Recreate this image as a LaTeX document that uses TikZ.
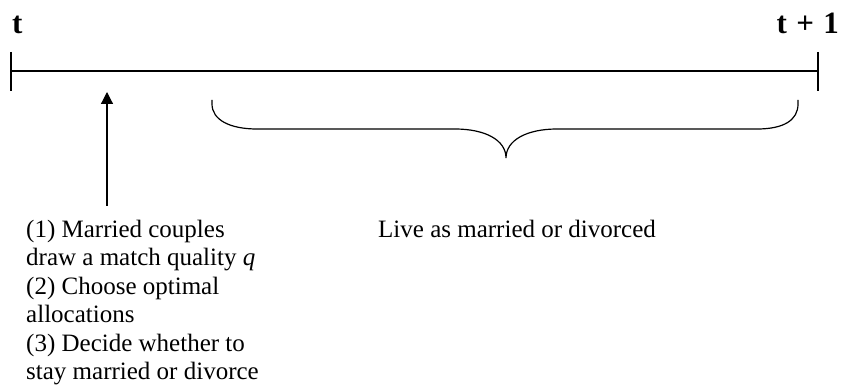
\documentclass[tikz,border=0pt]{standalone}
\usepackage{fontspec}
\setmainfont{Liberation Serif}
\usetikzlibrary{arrows.meta}
\begin{document}
\begin{tikzpicture}[x=1pt,y=-1pt,
  lbl/.style={inner sep=0pt,font=\fontsize{31}{34}\selectfont\bfseries},
  body/.style={inner sep=0pt,align=left,font=\fontsize{25}{28.4}\selectfont},
  line/.style={line width=1.2pt},
  arr/.style={line width=1.2pt,-{Triangle[length=12pt,width=12pt]}}]
\useasboundingbox (0,0) rectangle (842,387);
% timeline
\coordinate (a) at (11,71);
\coordinate (b) at (818,71);
\draw[line] (a) -- (b);
\draw[line] (11,52) -- (11,91);
\draw[line] (818,52) -- (818,91);
\node[lbl,anchor=base west] (t0) at (12,34) {t};
\node[lbl,anchor=base east] (t1) at (839,34) {t\hspace{0.3em}+\hspace{0.3em}1};
% arrow
\coordinate (ab) at (107,206);
\coordinate (at) at (107,92);
\draw[arr] (ab) -- (at);
% brace
\draw[line] (212,100) -- (212,104) .. controls (212,120) and (230,129) .. (257,129)
  -- (455,129) .. controls (485,129) and (506,140) .. (506,158)
  .. controls (506,140) and (527,129) .. (557,129)
  -- (757,129) .. controls (784,129) and (798,120) .. (798,104) -- (798,100);
% texts
\node[body,anchor=north west] (steps) at (26,220) {(1) Married couples\\draw a match quality \textit{q}\\(2) Choose optimal\\allocations\\(3) Decide whether to\\stay married or divorce};
\node[body,anchor=north west] (live) at (378,220) {Live as married or divorced};
\end{tikzpicture}
\end{document}
